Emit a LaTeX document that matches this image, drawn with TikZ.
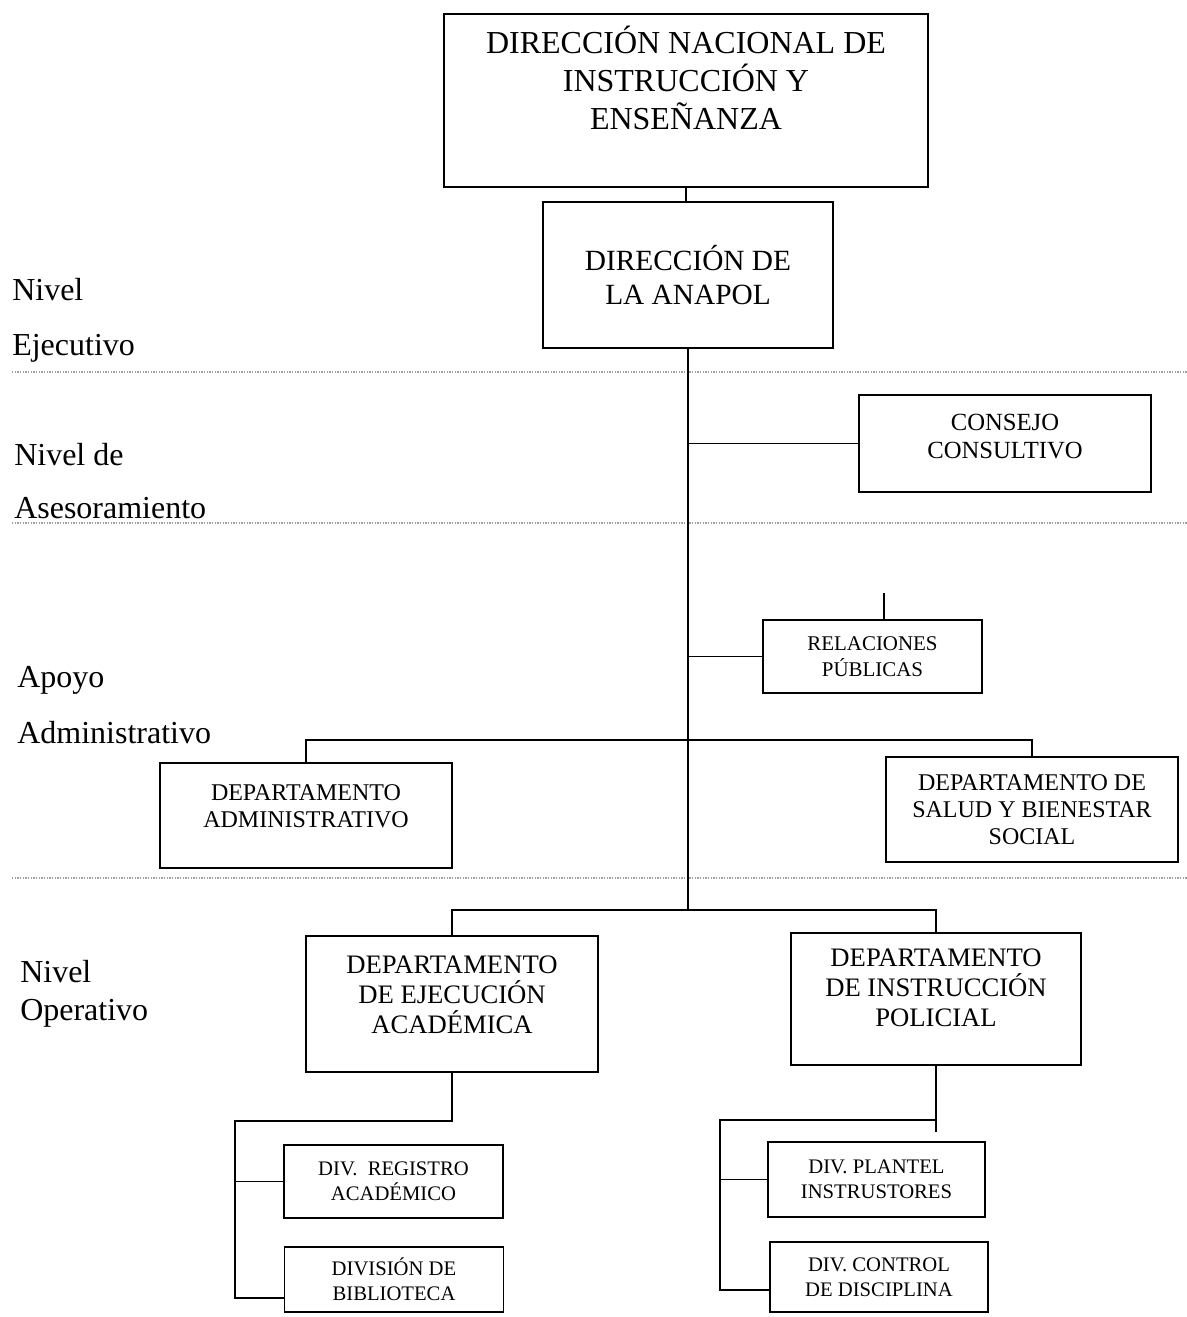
\documentclass[tikz,border=0pt]{standalone}
\usepackage{fontspec}
\setmainfont{Liberation Serif}
\begin{document}
\begin{tikzpicture}[x=0.75pt,y=0.75pt,yscale=-1,xscale=1,
  unit/.style={draw,line width=1.4pt,align=center,inner sep=0pt},
  fs/.style 2 args={font=\fontsize{#1}{#2}\selectfont},
  link/.style={line width=1.2pt},
  level/.style={color=gray!75,line width=0.8pt,dash pattern={on 1pt off 1pt}},
  levellabel/.style={anchor=base west,inner sep=0pt,font=\fontsize{24}{28}\selectfont}]
\useasboundingbox (0,0) rectangle (1187,1317);
%Level separators
\foreach \y in {372,523,878}
  \draw [level] (12,\y) -- (1187,\y);
% Text Node
\node [levellabel] (nivelA) at (12,300) {Nivel};
\node [levellabel] (ejecutivo) at (12,355) {Ejecutivo};
\node [levellabel] (nivelB) at (14,465) {Nivel de};
\node [levellabel] (asesor) at (14,518) {Asesoramiento};
\node [levellabel] (apoyo) at (17,687) {Apoyo};
\node [levellabel] (administ) at (17,743) {Administrativo};
\node [levellabel] (nivelC) at (20,982) {Nivel};
\node [levellabel] (operativo) at (20,1020) {Operativo};
% Boxes
\node [unit,fs={24}{28.5},minimum width=363pt,minimum height=129.75pt,text depth=34pt] (nacional) at (686,100.5) {DIRECCIÓN NACIONAL DE\\INSTRUCCIÓN Y\\ENSEÑANZA};
\node [unit,fs={22}{26},minimum width=217.5pt,minimum height=109.5pt] (anapol) at (688,275) {DIRECCIÓN DE\\LA ANAPOL};
\node [unit,fs={18.5}{20.5},minimum width=219pt,minimum height=72.75pt,text depth=11pt] (consejo) at (1005,443.5) {CONSEJO\\CONSULTIVO};
\node [unit,fs={15.7}{19},minimum width=164.25pt,minimum height=54.75pt] (relpub) at (872.5,656.5) {RELACIONES\\PÚBLICAS};
\node [unit,fs={18}{20.5},minimum width=219pt,minimum height=78.75pt,text depth=14pt] (admin) at (306,815.5) {DEPARTAMENTO\\ADMINISTRATIVO};
\node [unit,fs={18}{20.5},minimum width=219pt,minimum height=78.75pt] (salud) at (1032,809.5) {DEPARTAMENTO DE\\SALUD Y BIENESTAR\\SOCIAL};
\node [unit,fs={20}{22.5},minimum width=219pt,minimum height=102pt,text depth=13.5pt] (ejec) at (452,1004) {DEPARTAMENTO\\DE EJECUCIÓN\\ACADÉMICA};
\node [unit,fs={20}{22.5},minimum width=217.5pt,minimum height=99pt,text depth=16.5pt] (instr) at (936,999) {DEPARTAMENTO\\DE INSTRUCCIÓN\\POLICIAL};
\node [unit,fs={15.5}{19},minimum width=164.25pt,minimum height=54.75pt] (regis) at (393.5,1181.5) {DIV.\ \ REGISTRO\\ACADÉMICO};
\node [unit,fs={15.5}{19},minimum width=164.25pt,minimum height=48.75pt] (biblio) at (394,1279.5) {DIVISIÓN DE\\BIBLIOTECA};
\node [unit,fs={15.5}{19},minimum width=162.75pt,minimum height=56.25pt] (plantel) at (876.5,1179.5) {DIV. PLANTEL\\INSTRUSTORES};
\node [unit,fs={15.5}{19},minimum width=163.5pt,minimum height=52.5pt] (control) at (879,1277) {DIV. CONTROL\\DE DISCIPLINA};
% Connector points
\coordinate (trunk) at (688,910);
\coordinate (bar) at (688,740);
\coordinate (stub) at (884,593);
\coordinate (lb) at (235,1121);
\coordinate (lbend) at (235,1298);
\coordinate (rb) at (720,1120);
\coordinate (rbend) at (720,1290);
\coordinate (rtail) at (936,1132);
%Straight Lines
\draw [link] (nacional.south) -- (nacional.south |- anapol.north);
\draw [link] (anapol.south) -- (trunk);
\draw [link] (consejo.west) -- (consejo.west -| trunk);
\draw [link] (relpub.west) -- (relpub.west -| trunk);
\draw [link] (stub) -- (stub |- relpub.north);
\draw [link] (admin.north) |- (salud.north |- bar) -- (salud.north);
\draw [link] (ejec.north) |- (instr.north |- trunk) -- (instr.north);
\draw [link] (ejec.south) |- (lb) -- (lbend) -- (lbend -| biblio.west);
\draw [link] (lb |- regis.west) -- (regis.west);
\draw [link] (instr.south) -- (rtail);
\draw [link] (rtail |- rb) -- (rb) -- (rbend) -- (rbend -| control.west);
\draw [link] (rb |- plantel.west) -- (plantel.west);
\end{tikzpicture}
\end{document}
